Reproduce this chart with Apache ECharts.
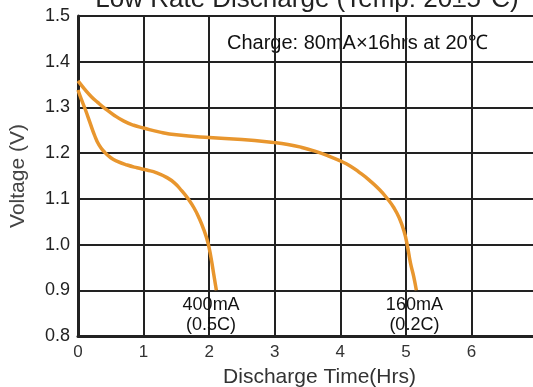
<!DOCTYPE html>
<html>
<head>
<meta charset="utf-8">
<script src="https://cdn.jsdelivr.net/npm/echarts@6/dist/echarts.min.js"></script>
<style>
  html, body { margin: 0; padding: 0; background: #fff; }
  #chart { width: 533px; height: 387px; }
</style>
</head>
<body>
<div id="chart"></div>
<script>
// discharge curves: [hours, volts]
var curve400mA = [
    [0, 1.338], [0.05, 1.318], [0.11, 1.296], [0.18, 1.268], [0.25, 1.24], [0.32, 1.218],
    [0.4, 1.203], [0.5, 1.19], [0.6, 1.182], [0.75, 1.174], [0.9, 1.168], [1.05, 1.163],
    [1.2, 1.157], [1.35, 1.147], [1.47, 1.135], [1.58, 1.118], [1.68, 1.1],
    [1.77, 1.08], [1.85, 1.057], [1.92, 1.032], [1.98, 1.005], [2.03, 0.97],
    [2.07, 0.935], [2.11, 0.9]
];
var curve160mA = [
    [0, 1.358], [0.1, 1.34], [0.2, 1.324], [0.3, 1.311], [0.4, 1.299], [0.55, 1.283],
    [0.7, 1.27], [0.85, 1.261], [1.0, 1.255], [1.25, 1.246], [1.5, 1.24], [2.0, 1.234],
    [2.5, 1.23], [3.0, 1.223], [3.2, 1.219], [3.4, 1.213], [3.6, 1.205], [3.8, 1.195],
    [4.0, 1.183], [4.15, 1.172], [4.3, 1.157], [4.45, 1.14], [4.6, 1.12], [4.72, 1.1],
    [4.82, 1.08], [4.9, 1.058], [4.97, 1.03], [5.02, 1.0], [5.07, 0.96], [5.12, 0.93],
    [5.16, 0.9]
];
var curveNames = ['400mA\n(0.5C)', '160mA\n(0.2C)'];
var labelPoints = [[2.03, 0.846], [5.13, 0.846]];
var xTicks = [0, 1, 2, 3, 4, 5, 6, 7];
var yTicks = [0.8, 0.9, 1.0, 1.1, 1.2, 1.3, 1.4, 1.5];

var font = 'Arial, "Liberation Sans", sans-serif';
var lineColor = '#E8962E';
var gridColor = '#222';

var myChart = echarts.init(document.getElementById('chart'));

function curveSeries(data, idx) {
    return {
        name: curveNames[idx],
        type: 'line',
        data: data,
        smooth: 0.5,
        symbol: 'none',
        lineStyle: { color: lineColor, width: 3.5 },
        markPoint: {
            symbolSize: 0,
            data: [{ coord: labelPoints[idx] }],
            label: {
                show: true,
                formatter: curveNames[idx],
                color: '#111',
                fontFamily: font,
                fontSize: 18,
                lineHeight: 20
            }
        }
    };
}

option = {
    backgroundColor: '#fff',
    animation: false,
    title: {
        text: 'Low Rate Discharge (Temp: 20±5°C)',
        left: 307,
        textAlign: 'center',
        top: -13,
        padding: 0,
        textStyle: { fontFamily: font, fontSize: 26, fontWeight: 'normal', color: '#222' }
    },
    graphic: [{
        type: 'text',
        left: 227,
        top: 33,
        style: {
            text: 'Charge: 80mA×16hrs at 20℃',
            font: '20px Arial, "Liberation Sans", sans-serif',
            fill: '#111'
        }
    }],
    grid: { left: 78, right: -4, top: 16, bottom: 51, outerBoundsMode: 'none' },
    xAxis: {
        type: 'value',
        min: xTicks[0],
        max: xTicks[xTicks.length - 1],
        interval: 1,
        name: 'Discharge Time(Hrs)',
        nameLocation: 'middle',
        nameGap: 31,
        nameTextStyle: { fontFamily: font, fontSize: 21, color: '#333', padding: [0, 0, 0, 24] },
        axisLine: { lineStyle: { color: gridColor, width: 3 } },
        axisTick: { show: false },
        axisLabel: { fontFamily: font, fontSize: 17, color: '#333', margin: 8 },
        splitLine: { show: true, lineStyle: { color: gridColor, width: 2 } }
    },
    yAxis: {
        type: 'value',
        min: yTicks[0],
        max: yTicks[yTicks.length - 1],
        interval: 0.1,
        name: 'Voltage (V)',
        nameLocation: 'middle',
        nameGap: 49,
        nameTextStyle: { fontFamily: font, fontSize: 21, color: '#444' },
        axisLine: { show: true, lineStyle: { color: gridColor, width: 3 } },
        axisTick: { show: false },
        axisLabel: {
            fontFamily: font, fontSize: 18, color: '#222', margin: 8,
            formatter: function (v) { return v.toFixed(1); }
        },
        splitLine: { show: true, lineStyle: { color: gridColor, width: 2 } }
    },
    series: [curveSeries(curve400mA, 0), curveSeries(curve160mA, 1)]
};
myChart.setOption(option);
</script>
</body>
</html>
